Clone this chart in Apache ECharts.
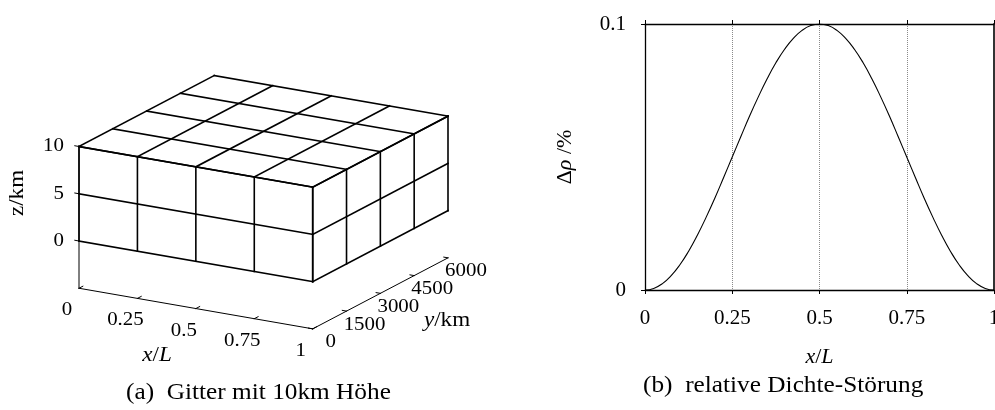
<!DOCTYPE html>
<html>
<head>
<meta charset="utf-8">
<script src="https://cdn.jsdelivr.net/npm/echarts@6/dist/echarts.min.js"></script>
<style>
  html, body { margin: 0; padding: 0; background: #fff; }
  #chart { width: 995px; height: 410px; }
</style>
</head>
<body>
<div id="chart"></div>
<script>
// ---- (a) model grid: cell boundaries along each axis ----
const gridX = [0, 0.25, 0.5, 0.75, 1];          // x/L
const gridY = [0, 1500, 3000, 4500, 6000];      // y in km
const gridZ = [0, 5, 10];                       // z in km
const xTickLabels = ['0', '0.25', '0.5', '0.75', '1'];
const yTickLabels = ['0', '1500', '3000', '4500', '6000'];
const zTickLabels = ['0', '5', '10'];
const zFloor = -5;                              // level of the x/y base plane

// ---- (b) relative density perturbation along x/L ----
const posX = [0, 0.025, 0.05, 0.075, 0.1, 0.125, 0.15, 0.175, 0.2, 0.225,
              0.25, 0.275, 0.3, 0.325, 0.35, 0.375, 0.4, 0.425, 0.45, 0.475,
              0.5, 0.525, 0.55, 0.575, 0.6, 0.625, 0.65, 0.675, 0.7, 0.725,
              0.75, 0.775, 0.8, 0.825, 0.85, 0.875, 0.9, 0.925, 0.95, 0.975, 1];
const dRho = [0, 0.0006, 0.0024, 0.0054, 0.0095, 0.0146, 0.0206, 0.0273, 0.0345, 0.0422,
              0.05, 0.0578, 0.0655, 0.0727, 0.0794, 0.0854, 0.0905, 0.0946, 0.0976, 0.0994,
              0.1, 0.0994, 0.0976, 0.0946, 0.0905, 0.0854, 0.0794, 0.0727, 0.0655, 0.0578,
              0.05, 0.0422, 0.0345, 0.0273, 0.0206, 0.0146, 0.0095, 0.0054, 0.0024, 0.0006, 0];
const rhoTicks = [0, 0.1];

// Oblique projection of (x/L, y km, z km) onto a flat plane (units ~ px, y up)
const EX = [233.7, -40.6];
const EY = [135.3 / 6000, 71 / 6000];
const EZ = [0, 9.45];
function project(x, y, z) {
  return [x * EX[0] + y * EY[0] + z * EZ[0], x * EX[1] + y * EY[1] + z * EZ[1]];
}

const xMax = gridX[gridX.length - 1];
const yMax = gridY[gridY.length - 1];
const zMax = gridZ[gridZ.length - 1];

// Visible edges of the block: front face (y=0), top (z=zMax), right side (x=xMax)
const boxSegs = [];
gridX.forEach(x => boxSegs.push([x, 0, gridZ[0], x, 0, zMax]));
gridZ.forEach(z => boxSegs.push([gridX[0], 0, z, xMax, 0, z]));
gridX.forEach(x => boxSegs.push([x, 0, zMax, x, yMax, zMax]));
gridY.forEach(y => boxSegs.push([gridX[0], y, zMax, xMax, y, zMax]));
gridY.forEach(y => boxSegs.push([xMax, y, gridZ[0], xMax, y, zMax]));
gridZ.forEach(z => boxSegs.push([xMax, 0, z, xMax, yMax, z]));

// Axes on the base plane plus their tick marks
const axisSegs = [];
axisSegs.push([0, 0, zFloor, 0, 0, zMax]);
axisSegs.push([0, 0, zFloor, xMax, 0, zFloor]);
axisSegs.push([xMax, 0, zFloor, xMax, yMax, zFloor]);
gridX.forEach(x => axisSegs.push([x, 0, zFloor, x, 170, zFloor]));
gridY.forEach(y => axisSegs.push([xMax, y, zFloor, xMax - 0.018, y, zFloor]));
gridZ.forEach(z => axisSegs.push([0, 0, z, -0.018, 0, z]));

// Tick labels anchored at projected tick positions
const labelItems = [];
gridX.forEach((x, i) => labelItems.push({ pos: [x, 0, zFloor], text: xTickLabels[i], off: [-12, 22], align: 'center' }));
gridY.forEach((y, i) => labelItems.push({ pos: [xMax, y, zFloor], text: yTickLabels[i], off: [18, 13.5], align: 'center' }));
gridZ.forEach((z, i) => labelItems.push({ pos: [0, 0, z], text: zTickLabels[i], off: [-15, 0], align: 'right' }));

const SERIF = '"Liberation Serif", "Times New Roman", serif';

function segRenderer(width) {
  return function (params, api) {
    const a = api.coord(project(api.value(0), api.value(1), api.value(2)));
    const b = api.coord(project(api.value(3), api.value(4), api.value(5)));
    return {
      type: 'line',
      shape: { x1: a[0], y1: a[1], x2: b[0], y2: b[1] },
      style: { stroke: '#000', lineWidth: width, lineCap: 'square' }
    };
  };
}

const chart = echarts.init(document.getElementById('chart'), null, { renderer: 'canvas' });

chart.setOption({
  backgroundColor: '#fff',
  animation: false,
  textStyle: { fontFamily: SERIF, color: '#000' },
  grid: [
    { left: 0, top: 0, width: 500, height: 410, outerBoundsMode: 'none', containLabel: false },
    { left: 645, top: 24, width: 349, height: 266, outerBoundsMode: 'none', containLabel: false }
  ],
  xAxis: [
    { gridIndex: 0, type: 'value', min: -79, max: 421, show: false },
    {
      gridIndex: 1, type: 'value', min: 0, max: 1, interval: 0.25,
      axisLine: { show: true, onZero: false, lineStyle: { color: '#000', width: 1.3 } },
      axisTick: { show: true, inside: false, length: 4, lineStyle: { color: '#000', width: 1 } },
      axisLabel: { show: true, color: '#000', fontFamily: SERIF, fontSize: 21, margin: 18, hideOverlap: false,
                   showMinLabel: true, showMaxLabel: true },
      splitLine: { show: true, lineStyle: { color: '#8a8a8a', width: 1, type: [1, 1] } },
      name: '{i|x}/{i|L}', nameLocation: 'middle', nameGap: 56,
      nameTextStyle: { fontFamily: SERIF, fontSize: 22, color: '#000',
                       rich: { i: { fontStyle: 'italic', fontFamily: SERIF, fontSize: 22 } } }
    },
    {
      gridIndex: 1, type: 'value', min: 0, max: 1, interval: 0.25, position: 'top',
      axisLine: { show: true, onZero: false, lineStyle: { color: '#000', width: 1.3 } },
      axisTick: { show: true, inside: false, length: 4, lineStyle: { color: '#000', width: 1 } },
      axisLabel: { show: false }, splitLine: { show: false }
    }
  ],
  yAxis: [
    { gridIndex: 0, type: 'value', min: -169, max: 241, show: false },
    {
      gridIndex: 1, type: 'value', min: rhoTicks[0], max: rhoTicks[1], interval: 0.1,
      axisLine: { show: true, onZero: false, lineStyle: { color: '#000', width: 1.3 } },
      axisTick: { show: true, inside: false, length: 4, lineStyle: { color: '#000', width: 1 } },
      axisLabel: { show: true, color: '#000', fontFamily: SERIF, fontSize: 21, margin: 19 },
      splitLine: { show: false },
      name: '{d|Δ}{i|ρ} /%', nameLocation: 'middle', nameGap: 69, nameRotate: 90,
      nameTextStyle: { fontFamily: SERIF, fontSize: 22, color: '#000',
                       rich: { d: { fontFamily: SERIF, fontSize: 22 },
                               i: { fontStyle: 'italic', fontFamily: SERIF, fontSize: 22 } } }
    },
    {
      gridIndex: 1, type: 'value', min: rhoTicks[0], max: rhoTicks[1], interval: 0.1, position: 'right',
      axisLine: { show: true, onZero: false, lineStyle: { color: '#333', width: 2 } },
      axisTick: { show: false }, axisLabel: { show: false }, splitLine: { show: false }
    }
  ],
  series: [
    {
      type: 'custom', name: 'block', xAxisIndex: 0, yAxisIndex: 0,
      renderItem: segRenderer(1.6), data: boxSegs, silent: true, z: 3
    },
    {
      type: 'custom', name: 'axes', xAxisIndex: 0, yAxisIndex: 0,
      renderItem: segRenderer(1), data: axisSegs, silent: true, z: 2
    },
    {
      type: 'custom', name: 'tickLabels', xAxisIndex: 0, yAxisIndex: 0, silent: true,
      data: labelItems.map(l => l.pos),
      renderItem: function (params, api) {
        const L = labelItems[params.dataIndex];
        const c = api.coord(project(api.value(0), api.value(1), api.value(2)));
        return {
          type: 'text', x: c[0] + L.off[0], y: c[1] + L.off[1], scaleX: 1.1,
          style: { text: L.text, align: L.align, verticalAlign: 'middle',
                   fontFamily: SERIF, fontSize: 19, fill: '#000' }
        };
      }
    },
    {
      type: 'line', name: 'drho', xAxisIndex: 1, yAxisIndex: 1,
      data: posX.map((x, i) => [x, dRho[i]]),
      showSymbol: false, smooth: true, silent: true,
      lineStyle: { color: '#000', width: 1.1 }, z: 4
    }
  ],
  graphic: [
    { type: 'text', x: 17, y: 193, rotation: Math.PI / 2, scaleX: 1.1,
      style: { text: 'z/km', align: 'center', verticalAlign: 'middle', fontFamily: SERIF, fontSize: 21, fill: '#000' } },
    { type: 'text', x: 157, y: 355, scaleX: 1.1,
      style: { text: '{i|x}/{i|L}', align: 'center', verticalAlign: 'middle', fontFamily: SERIF, fontSize: 21, fill: '#000',
               rich: { i: { fontStyle: 'italic', fontFamily: SERIF, fontSize: 21 } } } },
    { type: 'text', x: 447, y: 320, scaleX: 1.1,
      style: { text: '{i|y}/km', align: 'center', verticalAlign: 'middle', fontFamily: SERIF, fontSize: 21, fill: '#000',
               rich: { i: { fontStyle: 'italic', fontFamily: SERIF, fontSize: 21 } } } },
    { type: 'text', x: 126, y: 393, scaleX: 1.1,
      style: { text: '(a)  Gitter mit 10km Höhe', align: 'left', verticalAlign: 'middle', fontFamily: SERIF, fontSize: 23, fill: '#000' } },
    { type: 'text', x: 643, y: 386, scaleX: 1.1,
      style: { text: '(b)  relative Dichte-Störung', align: 'left', verticalAlign: 'middle', fontFamily: SERIF, fontSize: 23, fill: '#000' } }
  ]
});
</script>
</body>
</html>
